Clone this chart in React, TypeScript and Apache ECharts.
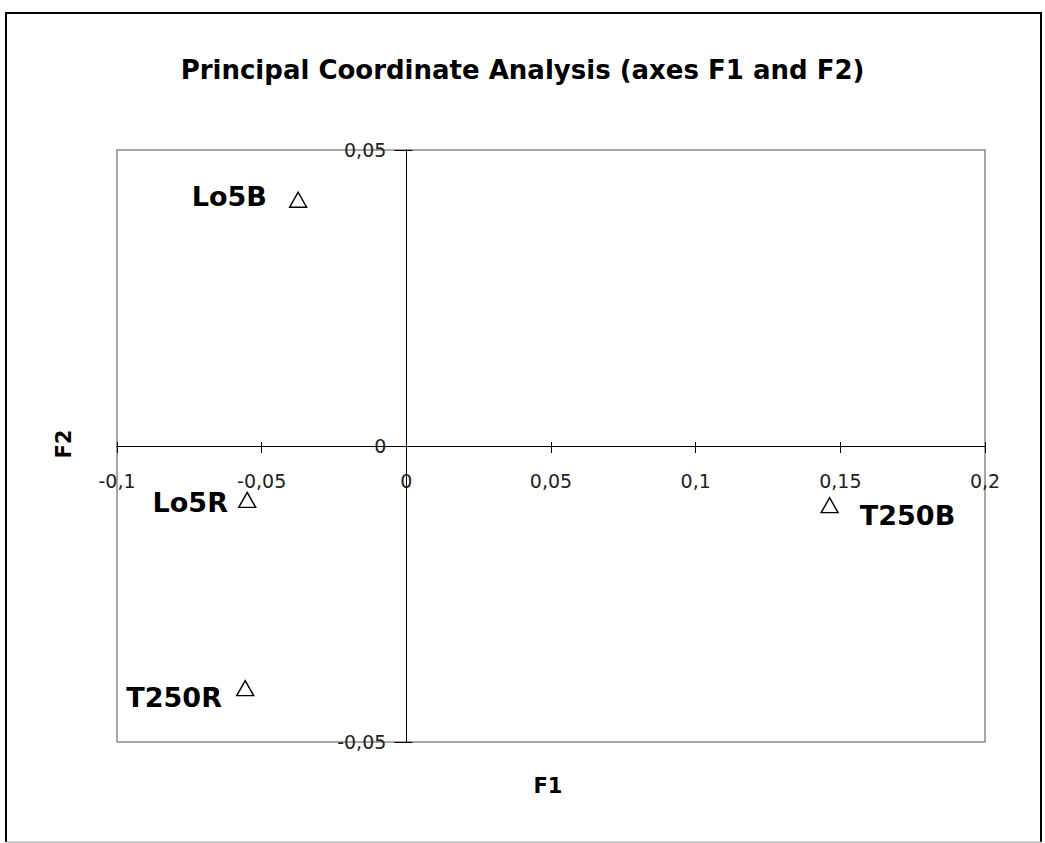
import React, { useEffect, useRef } from "react";
import * as echarts from "echarts";

// Sample names and their principal coordinates on F1 / F2
const sampleNames = ["Lo5B", "Lo5R", "T250R", "T250B"];
const f1Values = [-0.0374, -0.055, -0.0557, 0.1463];
const f2Values = [0.0416, -0.0091, -0.0409, -0.01];

// Axis ranges
const f1Min = -0.1;
const f1Max = 0.2;
const f1Step = 0.05;
const f2Min = -0.05;
const f2Max = 0.05;
const f2Step = 0.05;

const chartTitle = "Principal Coordinate Analysis (axes F1 and F2)";
const xName = "F1";
const yName = "F2";

// Where each point's name sits relative to its marker
const labelPlacement: Record<string, { position: string; distance: number; offset: number[] }> = {
  Lo5B: { position: "left", distance: 22, offset: [0, -3] },
  Lo5R: { position: "left", distance: 10, offset: [0, 3] },
  T250R: { position: "left", distance: 14, offset: [0, 9] },
  T250B: { position: "right", distance: 21, offset: [0, 10] },
};

const FONT = "DejaVu Sans";

// Plot frame in pixels
const PLOT = { left: 117, top: 150, width: 868, height: 592 };

// Decimal comma, as in the source locale
const fmt = (v: number) => String(+v.toFixed(3)).replace(".", ",");

export default function App() {
  const ref = useRef<HTMLDivElement>(null);

  useEffect(() => {
    if (!ref.current) return;
    const chart = echarts.init(ref.current, null, { renderer: "svg" });

    // Pixel position of the zero lines inside the plot frame
    const zeroY = PLOT.top + (PLOT.height * (f2Max - 0)) / (f2Max - f2Min);
    const zeroX = PLOT.left + (PLOT.width * (0 - f1Min)) / (f1Max - f1Min);

    const pointLabelStyle = {
      fontFamily: FONT,
      fontSize: 27,
      fontWeight: "bold",
      color: "#000",
      opacity: 1,
    };

    const points = sampleNames.map((name, i) => {
      const p = labelPlacement[name];
      return {
        name,
        value: [f1Values[i], f2Values[i]],
        label: {
          show: true,
          formatter: "{b}",
          position: p.position,
          distance: p.distance,
          offset: p.offset,
          ...pointLabelStyle,
        },
      };
    });

    const xRange = { type: "value" as const, min: f1Min, max: f1Max, interval: f1Step, splitLine: { show: false } };
    const yRange = { type: "value" as const, min: f2Min, max: f2Max, interval: f2Step, splitLine: { show: false } };
    const hidden = { show: false };
    const blackLine = { show: true, onZero: false, lineStyle: { color: "#000", width: 1 } };
    const tickLabel = { fontFamily: FONT, fontSize: 19, color: "#222", formatter: fmt, showMinLabel: true, showMaxLabel: true };

    chart.setOption({
      animation: false,
      backgroundColor: "#ffffff",
      title: {
        text: chartTitle,
        left: "center",
        top: 52,
        textStyle: { fontFamily: FONT, fontSize: 26, fontWeight: "bold", color: "#000" },
      },
      grid: [
        // 0: data area with its frame
        {
          ...PLOT,
          outerBoundsMode: "none",
          show: true,
          borderColor: "#8a8a8a",
          borderWidth: 1.5,
          backgroundColor: "#ffffff",
        },
        // 1: F1 axis drawn along the F2 = 0 line
        { left: PLOT.left, top: PLOT.top, width: PLOT.width, height: zeroY - PLOT.top, outerBoundsMode: "none" },
        // 2: F2 axis drawn along the F1 = 0 line
        { left: zeroX, top: PLOT.top, width: PLOT.left + PLOT.width - zeroX, height: PLOT.height, outerBoundsMode: "none" },
      ],
      xAxis: [
        { ...xRange, gridIndex: 0, show: false },
        {
          ...xRange,
          gridIndex: 1,
          position: "bottom",
          axisLine: blackLine,
          axisTick: { show: true, inside: false, length: 7, lineStyle: { color: "#000" } },
          axisLabel: { ...tickLabel, margin: 25 },
        },
        {
          ...xRange,
          gridIndex: 1,
          position: "bottom",
          axisLine: blackLine,
          axisTick: { show: true, inside: true, length: 4, lineStyle: { color: "#000" } },
          axisLabel: hidden,
        },
        { ...xRange, gridIndex: 2, show: false },
      ],
      yAxis: [
        { ...yRange, gridIndex: 0, show: false },
        { ...yRange, gridIndex: 1, show: false },
        {
          ...yRange,
          gridIndex: 2,
          position: "left",
          axisLine: blackLine,
          axisTick: { show: true, inside: false, length: 12, lineStyle: { color: "#000" } },
          axisLabel: { ...tickLabel, margin: 20 },
        },
        {
          ...yRange,
          gridIndex: 2,
          position: "left",
          axisLine: blackLine,
          axisTick: { show: true, inside: true, length: 6, lineStyle: { color: "#000" } },
          axisLabel: hidden,
        },
      ],
      series: [
        {
          type: "scatter",
          xAxisIndex: 0,
          yAxisIndex: 0,
          symbol: "triangle",
          symbolSize: [17, 15],
          itemStyle: { color: "#ffffff", borderColor: "#000", borderWidth: 1.4, opacity: 1 },
          label: pointLabelStyle,
          data: points,
          z: 5,
        },
      ],
      graphic: [
        {
          type: "text",
          silent: true,
          x: 548,
          y: 786,
          style: {
            text: xName,
            fontFamily: FONT,
            fontSize: 21,
            fontWeight: "bold",
            fill: "#000",
            align: "center",
            verticalAlign: "middle",
          },
        },
        {
          type: "text",
          silent: true,
          x: 64,
          y: 444,
          rotation: Math.PI / 2,
          style: {
            text: yName,
            fontFamily: FONT,
            fontSize: 21,
            fontWeight: "bold",
            fill: "#000",
            align: "center",
            verticalAlign: "middle",
          },
        },
        {
          type: "polyline",
          silent: true,
          shape: { points: [[6, 842], [6, 13], [1041, 13], [1041, 842]] },
          style: { stroke: "#000", lineWidth: 2, fill: null },
          z: 100,
        },
        {
          type: "line",
          silent: true,
          shape: { x1: 6, y1: 842, x2: 1041, y2: 842 },
          style: { stroke: "#9a9a9a", lineWidth: 1 },
          z: 100,
        },
      ],
    });

    return () => chart.dispose();
  }, []);

  return (
    <div
      ref={ref}
      style={{ position: "fixed", left: 0, top: 0, width: 1045, height: 843, background: "#fff" }}
    />
  );
}
